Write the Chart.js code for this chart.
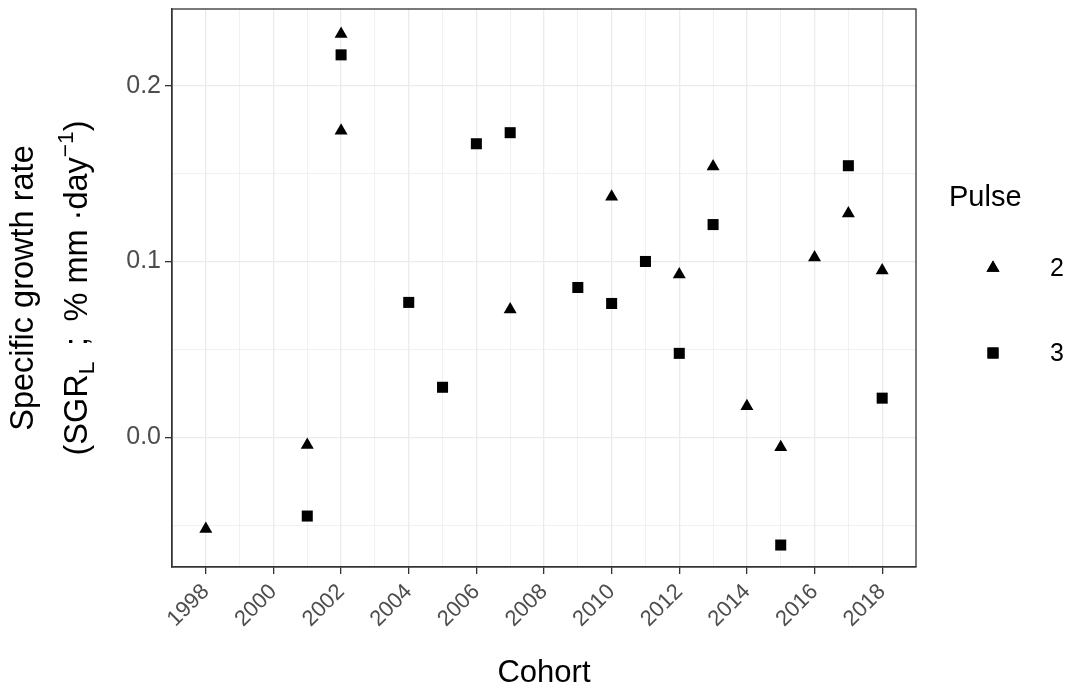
<!DOCTYPE html>
<html>
<head>
  <title>Specific growth rate by cohort</title>
  <script src="https://cdn.jsdelivr.net/npm/chart.js"></script>
  <style>
    body { margin: 0; background: #fff; }
    .chart-container { width: 1066px; height: 692px; }
  </style>
</head>
<body>
  <div class="chart-container"><canvas id="sgrChart"></canvas></div>
  <script>
    // values
    const pulse2Cohorts = [1998, 2001, 2002, 2002, 2007, 2010, 2012, 2013, 2014, 2015, 2016, 2017, 2018];
    const pulse2Sgr = [-0.0523, -0.0045, 0.2295, 0.1744, 0.0727, 0.1369, 0.0926, 0.154, 0.0176, -0.0057, 0.1023, 0.1273, 0.0949];
    const pulse3Cohorts = [2001, 2002, 2004, 2005, 2006, 2007, 2009, 2010, 2011, 2012, 2013, 2015, 2017, 2018];
    const pulse3Sgr = [-0.0449, 0.2176, 0.0767, 0.0284, 0.167, 0.1733, 0.0852, 0.0761, 0.1, 0.0477, 0.121, -0.0614, 0.1545, 0.0222];

    const xTicks = [1998, 1999, 2000, 2001, 2002, 2003, 2004, 2005, 2006, 2007, 2008, 2009, 2010, 2011, 2012, 2013, 2014, 2015, 2016, 2017, 2018];
    const xMajor = [1998, 2000, 2002, 2004, 2006, 2008, 2010, 2012, 2014, 2016, 2018];
    const yTicks = [-0.05, 0, 0.05, 0.1, 0.15, 0.2];
    const yMajor = [0, 0.1, 0.2];
    const yLabels = ['0.0', '0.1', '0.2'];

    const FONT = "'Liberation Sans', Arial, sans-serif";
    const isMajorX = v => xMajor.includes(v);
    const isMajorY = v => yMajor.some(m => Math.abs(m - v) < 1e-9);

    const toPoints = (xs, ys) => xs.map((x, i) => ({ x: x, y: ys[i] }));

    // panel border, y axis title with sub/superscript, legend
    const decorations = {
      id: 'decorations',
      afterDraw(chart) {
        const ctx = chart.ctx;
        const area = chart.chartArea;
        ctx.save();
        ctx.strokeStyle = '#333333';
        ctx.lineWidth = 1.3;
        ctx.strokeRect(area.left, area.top, area.right - area.left, area.bottom - area.top);

        // y title
        const cy = (area.top + area.bottom) / 2;
        const size = 32.5;
        ctx.fillStyle = '#000';
        ctx.textBaseline = 'alphabetic';
        ctx.save();
        ctx.translate(33, cy);
        ctx.rotate(-Math.PI / 2);
        ctx.font = size + 'px ' + FONT;
        ctx.textAlign = 'center';
        ctx.fillText('Specific growth rate', 0, 0);
        ctx.restore();

        const parts = [
          ['(SGR', 1, 0],
          ['L', 0.7, 0.22],
          [' \u2009; \u2009% mm \u00b7day', 1, 0],
          ['\u22121', 0.7, -0.42],
          [')', 1, 0]
        ];
        let total = 0;
        parts.forEach(p => {
          ctx.font = (size * p[1]) + 'px ' + FONT;
          total += ctx.measureText(p[0]).width;
        });
        ctx.save();
        ctx.translate(87, cy);
        ctx.rotate(-Math.PI / 2);
        ctx.textAlign = 'left';
        let px = -total / 2;
        parts.forEach(p => {
          ctx.font = (size * p[1]) + 'px ' + FONT;
          ctx.fillText(p[0], px, p[2] * size);
          px += ctx.measureText(p[0]).width;
        });
        ctx.restore();

        // legend
        ctx.textAlign = 'left';
        ctx.textBaseline = 'middle';
        ctx.font = '29px ' + FONT;
        ctx.fillText('Pulse', 949, 198);
        ctx.font = '25px ' + FONT;
        chart.data.datasets.forEach((ds, i) => {
          const y = 268 + i * 85;
          Chart.helpers.drawPoint(ctx, {
            pointStyle: ds.pointStyle, radius: ds.pointRadius, borderWidth: 0
          }, 993, y);
          ctx.fillStyle = '#000';
          ctx.fill();
          ctx.fillText(ds.label, 1050, y + 1);
        });
        ctx.restore();
      }
    };

    new Chart(document.getElementById('sgrChart'), {
      type: 'scatter',
      data: {
        datasets: [
          {
            label: '2',
            data: toPoints(pulse2Cohorts, pulse2Sgr),
            pointStyle: 'triangle',
            pointRadius: 7.5,
            backgroundColor: '#000',
            borderWidth: 0
          },
          {
            label: '3',
            data: toPoints(pulse3Cohorts, pulse3Sgr),
            pointStyle: 'rect',
            pointRadius: 7.8,
            backgroundColor: '#000',
            borderWidth: 0
          }
        ]
      },
      options: {
        responsive: true,
        maintainAspectRatio: false,
        animation: false,
        layout: { padding: { top: 9, right: 150, left: 0, bottom: 0 } },
        plugins: {
          legend: { display: false },
          tooltip: { enabled: false }
        },
        scales: {
          x: {
            type: 'linear',
            min: 1997,
            max: 2019,
            afterBuildTicks: s => { s.ticks = xTicks.map(v => ({ value: v })); },
            afterFit: s => { s.height = 125; s.paddingLeft = 0; s.paddingRight = 0; },
            ticks: {
              autoSkip: false,
              maxRotation: 45,
              minRotation: 45,
              padding: 5,
              color: '#4d4d4d',
              font: { family: FONT, size: 22 },
              callback: v => isMajorX(v) ? String(v) : ''
            },
            grid: {
              color: '#ebebeb',
              lineWidth: c => isMajorX(c.tick.value) ? 1.3 : 0.7,
              tickColor: c => isMajorX(c.tick.value) ? '#333333' : 'rgba(0,0,0,0)',
              tickWidth: 1.3,
              tickLength: 7
            },
            border: { color: '#333333', width: 1.3 },
            title: {
              display: true,
              text: 'Cohort',
              color: '#000',
              font: { family: FONT, size: 31 },
              padding: { top: 0, bottom: 0 }
            }
          },
          y: {
            min: -0.0739,
            max: 0.2437,
            afterBuildTicks: s => { s.ticks = yTicks.map(v => ({ value: v })); },
            afterFit: s => { s.width = 172; s.paddingTop = 0; s.paddingBottom = 0; },
            ticks: {
              padding: 4,
              color: '#4d4d4d',
              font: { family: FONT, size: 25 },
              callback: v => {
                const i = yMajor.findIndex(m => Math.abs(m - v) < 1e-9);
                return i >= 0 ? yLabels[i] : '';
              }
            },
            grid: {
              color: '#ebebeb',
              lineWidth: c => isMajorY(c.tick.value) ? 1.3 : 0.7,
              tickColor: c => isMajorY(c.tick.value) ? '#333333' : 'rgba(0,0,0,0)',
              tickWidth: 1.3,
              tickLength: 7
            },
            border: { color: '#333333', width: 1.3 }
          }
        }
      },
      plugins: [decorations]
    });
  </script>
</body>
</html>
